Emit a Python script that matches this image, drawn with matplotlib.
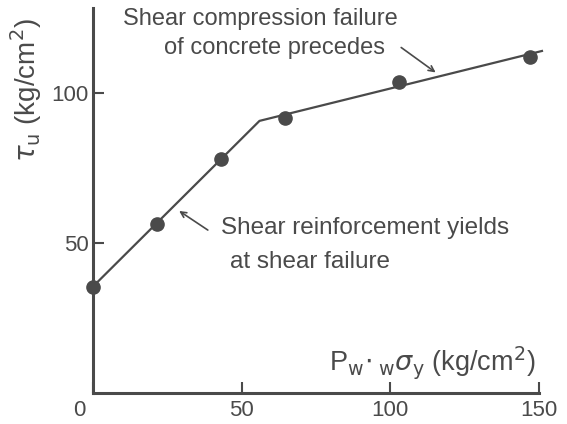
import matplotlib.pyplot as plt
from matplotlib.transforms import ScaledTranslation

plt.rcParams['font.family'] = ['Liberation Sans', 'DejaVu Sans']
plt.rcParams['mathtext.fontset'] = 'dejavusans'

# measured points
pw_sy = [0, 21.5, 43, 64.5, 103, 147]
tau_u = [35.5, 56.5, 78, 91.5, 103.5, 112]

# fitted bilinear line
line_x = [0, 56, 151]
line_y = [35.5, 90.7, 114]

xticks = [0, 50, 100, 150]
yticks = [50, 100]

ink = '#4a4a4a'

fig = plt.figure(figsize=(5.67, 4.24), dpi=100)
ax = fig.add_axes([0.164, 0.073, 0.7866, 0.908])

ax.plot(line_x, line_y, color=ink, lw=1.6, clip_on=False)
ax.plot(pw_sy, tau_u, 'o', color=ink, ms=9.5, clip_on=False)

ax.set_xlim(0, 150)
ax.set_ylim(0, 128.3)
ax.spines['top'].set_visible(False)
ax.spines['right'].set_visible(False)
for s in ['left', 'bottom']:
    ax.spines[s].set_linewidth(2.2)
    ax.spines[s].set_color(ink)

ax.set_xticks(xticks)
ax.set_yticks(yticks)
ax.tick_params(direction='in', length=8, width=1.5, color=ink, labelcolor=ink,
               labelsize=16)
ax.tick_params(axis='x', pad=5)
ax.tick_params(axis='y', pad=3)
lab0 = ax.get_xticklabels()[0]
lab0.set_transform(lab0.get_transform() + ScaledTranslation(-14 / 100, 0, fig.dpi_scale_trans))

ax.text(-0.15, 101, r'$\tau_{\mathrm{u}}$ (kg/cm$^2$)', transform=ax.get_yaxis_transform(),
        rotation=90, ha='center', va='center', fontsize=20, color=ink)
ax.text(148.7, 10.3, r'P$_{\mathrm{w}}\!\cdot{}_{\mathrm{w}}\sigma_{\mathrm{y}}$ (kg/cm$^2$)',
        ha='right', va='center', fontsize=19.5, color=ink)

ax.text(10, 124.5, 'Shear compression failure', fontsize=17, color=ink, va='center')
ax.text(24, 115, 'of concrete precedes', fontsize=17, color=ink, va='center')
ax.annotate('', xy=(116, 106.3), xytext=(102.9, 115.7),
            arrowprops=dict(arrowstyle='->', color=ink, lw=1.2))

ax.text(43, 55, 'Shear reinforcement yields', fontsize=17.5, color=ink, va='center')
ax.text(46, 43.7, 'at shear failure', fontsize=17.5, color=ink, va='center')
ax.annotate('', xy=(28.2, 61.2), xytext=(39.4, 53.8),
            arrowprops=dict(arrowstyle='->', color=ink, lw=1.2))

fig.savefig('out.png', dpi=100)
